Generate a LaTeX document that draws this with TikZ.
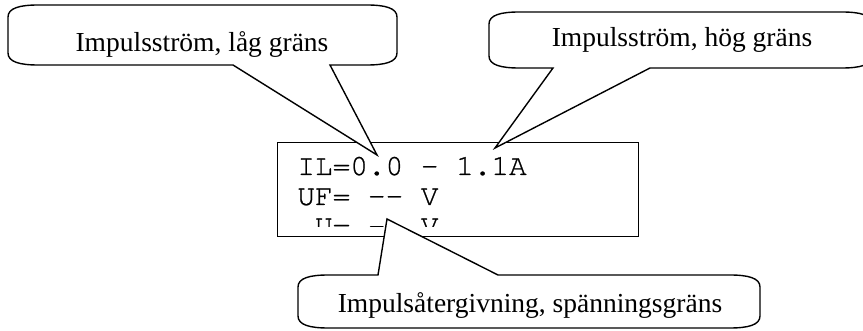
\documentclass[tikz,border=0pt]{standalone}
\usepackage{fontspec}
\setmainfont{Liberation Serif}
\newfontfamily\dispfont[FakeBold=0.8]{texgyrecursor-regular.otf}
\usetikzlibrary{positioning}

\begin{document}
\begin{tikzpicture}[x=0.5pt, y=-0.5pt]
  \tikzstyle{bubble}=[draw, fill=white, line width=0.7pt, line join=miter]
  \tikzstyle{bubbletext}=[inner sep=0pt, anchor=base, font=\fontsize{13.75}{16}\selectfont]
  \tikzstyle{dispbox}=[draw, line width=0.7pt, inner sep=0pt, anchor=north west]
  \tikzstyle{disptext}=[inner sep=0pt, anchor=base west, font=\dispfont\fontsize{14.7}{15}\selectfont]

  \useasboundingbox (0,0) rectangle (863,331);

  % display window
  \node (disp) [dispbox, minimum width=180.5pt, minimum height=47pt] at (277,142) {};
  \node (dispil) [disptext] at (297,175) {IL=0.0 - 1.1A};
  \node (dispuf) [disptext] at (297,205) {UF= -{}- V};
  \begin{scope}
    \clip (277,142) rectangle (638,227);
    \node (dispu) [disptext] at (297,235) {\ U= -{}- V};
  \end{scope}

  % pointer tips
  \coordinate (lowtip) at (377,155);
  \coordinate (hightip) at (495,148);
  \coordinate (utip) at (387,219);

  % low limit
  \filldraw[bubble] (8,17) .. controls (8,8) and (20,5) .. (38,5) -- (367,5)
    .. controls (385,5) and (397,8) .. (397,17) -- (397,53)
    .. controls (397,62) and (385,65) .. (367,65) -- (330,65) -- (lowtip) -- (233,65) -- (38,65)
    .. controls (20,65) and (8,62) .. (8,53) -- cycle;
  \node (lowlbl) [bubbletext] at (202,52) {Impulsström, låg gräns};

  % high limit
  \filldraw[bubble] (489,24) .. controls (489,15) and (501,12) .. (519,12) -- (842,12)
    .. controls (860,12) and (872,15) .. (872,24) -- (872,56)
    .. controls (872,65) and (860,68) .. (842,68) -- (650,68) -- (hightip) -- (553,68) -- (519,68)
    .. controls (501,68) and (489,65) .. (489,56) -- cycle;
  \node (highlbl) [bubbletext] at (682,47) {Impulsström, hög gräns};

  % voltage limit
  \filldraw[bubble] (298,287) .. controls (298,278) and (310,275) .. (328,275) -- (378,275) -- (utip)
    -- (498,275) -- (730,275) .. controls (748,275) and (760,278) .. (760,287) -- (760,316)
    .. controls (760,325) and (748,328) .. (730,328) -- (328,328)
    .. controls (310,328) and (298,325) .. (298,316) -- cycle;
  \node (ulbl) [bubbletext] at (530,313) {Impulsåtergivning, spänningsgräns};

\end{tikzpicture}
\end{document}
